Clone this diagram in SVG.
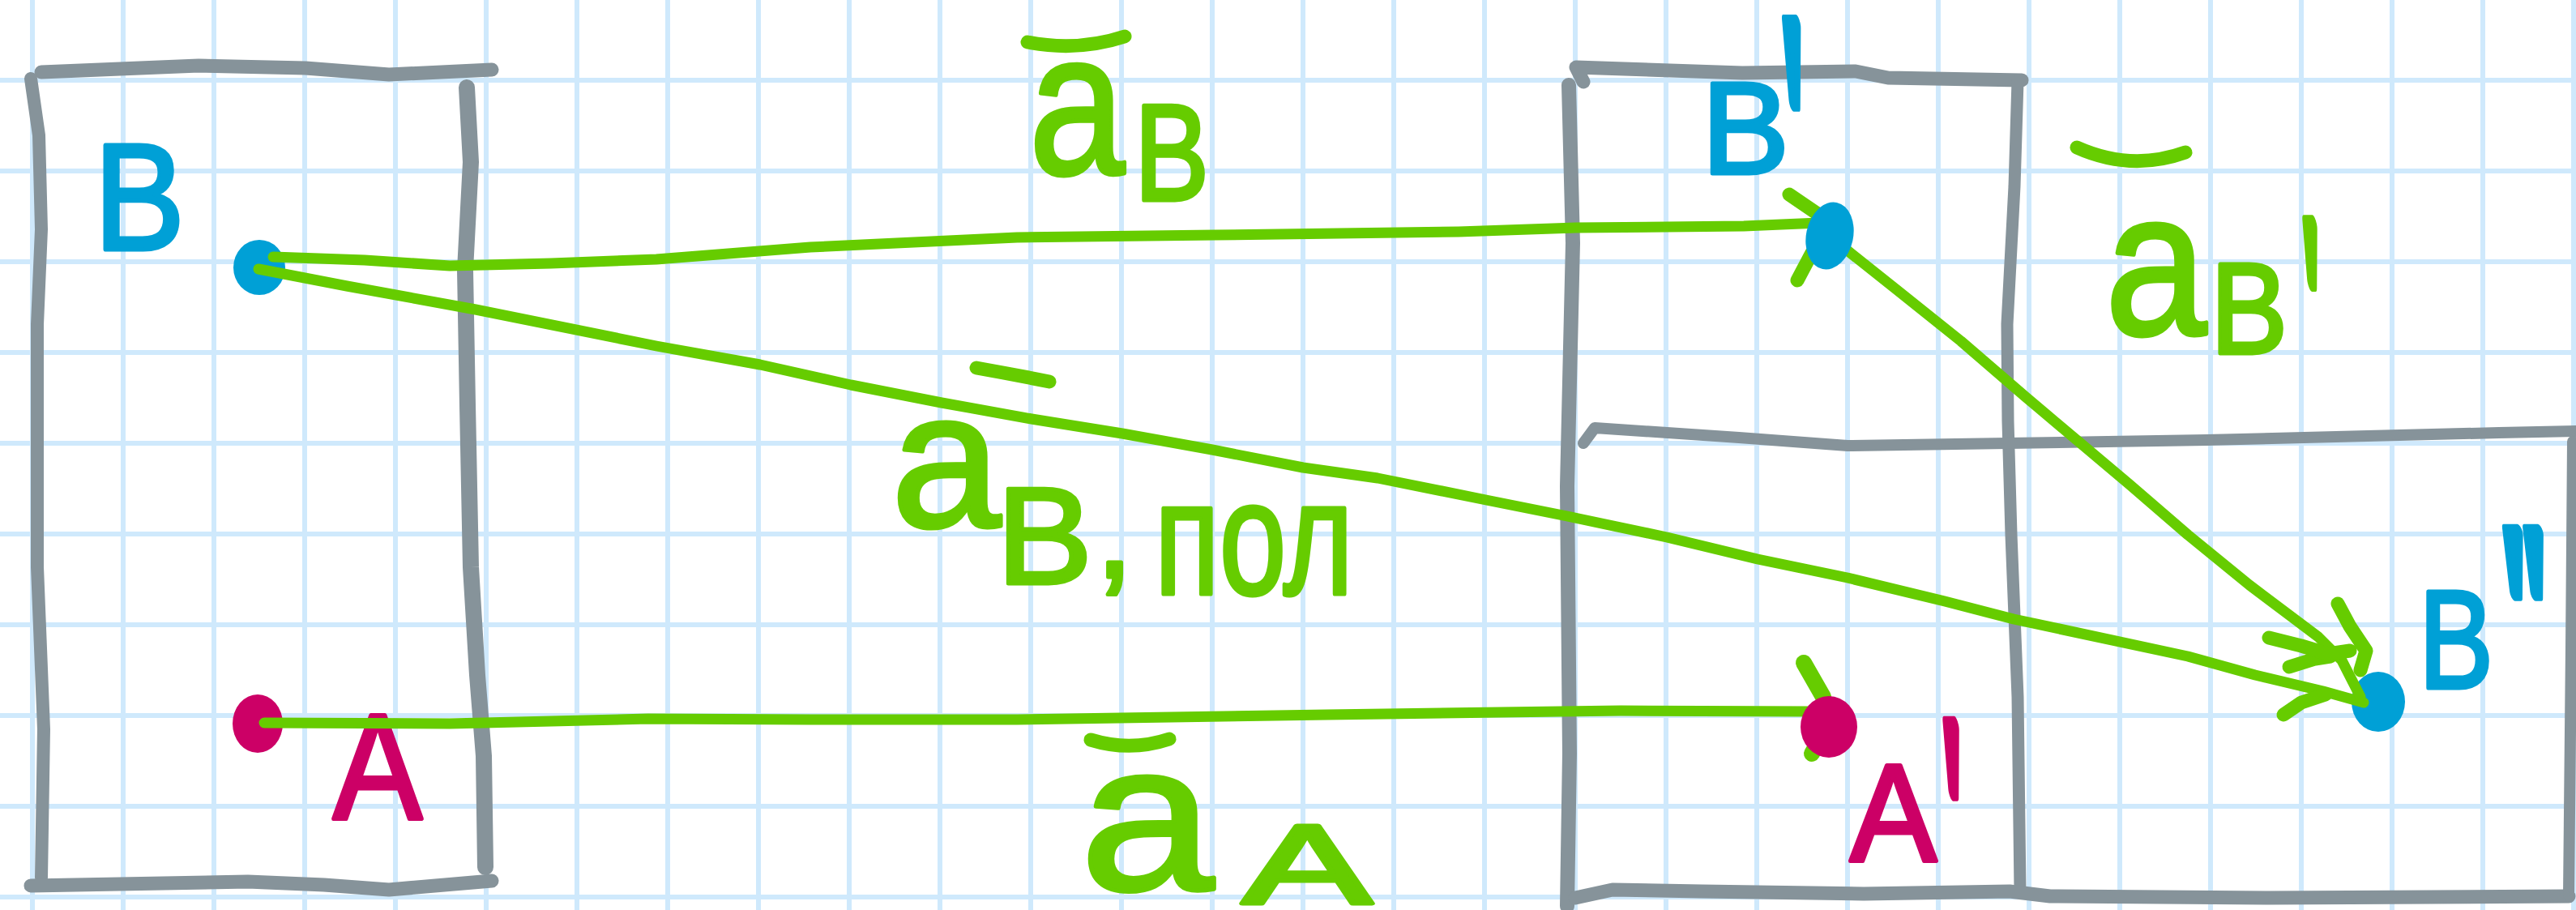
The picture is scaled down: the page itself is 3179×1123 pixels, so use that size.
<svg xmlns="http://www.w3.org/2000/svg" width="3179" height="1123" viewBox="0 0 3179 1123">
<defs>
<style>
.grid{stroke:#cfe9fc;stroke-width:6;fill:none}
.frame{stroke:#86939a;fill:none;stroke-linecap:round;stroke-linejoin:round;stroke-width:17}
.vec{stroke:#66cc00;fill:none;stroke-width:13;stroke-linecap:round;stroke-linejoin:round}
.head{stroke:#66cc00;fill:none;stroke-width:17;stroke-linecap:round;stroke-linejoin:round}
.bar{stroke:#66cc00;fill:none;stroke-width:17;stroke-linecap:round}
.lbl{font-family:"Liberation Sans",Arial,sans-serif;stroke-width:5;stroke-linejoin:round}
.pr{font-family:"DejaVu Sans",sans-serif;stroke-width:6;stroke-linejoin:round}
.g{fill:#66cc00;stroke:#66cc00}
.b{fill:#00a0d6;stroke:#00a0d6}
.m{fill:#cc0066;stroke:#cc0066}
.dot{stroke:none}
</style>
</defs>
<rect width="3179" height="1123" fill="#ffffff"/>
<path class="grid" d="M40 0V1123M152 0V1123M264 0V1123M376 0V1123M488 0V1123M600 0V1123M712 0V1123M824 0V1123M936 0V1123M1048 0V1123M1160 0V1123M1272 0V1123M1384 0V1123M1496 0V1123M1608 0V1123M1720 0V1123M1832 0V1123M1944 0V1123M2056 0V1123M2168 0V1123M2280 0V1123M2392 0V1123M2504 0V1123M2616 0V1123M2728 0V1123M2840 0V1123M2952 0V1123M3064 0V1123M3176 0V1123M0 99H3179M0 211H3179M0 323H3179M0 435H3179M0 547H3179M0 659H3179M0 771H3179M0 883H3179M0 995H3179M0 1107H3179"/>
<g id="frames">
<g id="frame-left">
<path class="frame" d="M51 89L245 81L377 84L480 92L607 86"/>
<path class="frame" d="M38 97L48 167L51 283L46 400L46 700L54 900L51 1083" style="stroke-width:16"/>
<path class="frame" d="M576 108L581 200L574 333L577 500L581 700L589 833L597 933L599 1070" style="stroke-width:20"/>
<path class="frame" d="M38 1093L306 1088L400 1092L480 1098L607 1087"/>
</g>
<g id="frame-middle">
<path class="frame" d="M1954 101L1945 83L2150 90L2290 88L2330 96L2495 99"/>
<path class="frame" d="M1936 105L1941 300L1934 600L1937 930L1934 1118" style="stroke-width:18"/>
<path class="frame" d="M2490 100L2486 230L2477 400L2478 520L2482 660L2490 860L2493 1100" style="stroke-width:15"/>
<path class="frame" d="M1944 1108L1990 1098L2100 1100L2300 1103L2480 1100L2530 1106L2800 1108L3170 1106"/>
</g>
<g id="frame-lower-right">
<path class="frame" d="M1954 547L1968 528L2146 540L2280 550L2477 547L2723 543L3084 534L3179 532" style="stroke-width:14"/>
<path class="frame" d="M3175 545L3173 800L3170 1105" style="stroke-width:14"/>
</g>
</g>
<g id="node-B">
<ellipse class="b dot" cx="320" cy="330" rx="32" ry="34"/>
<text class="lbl b" x="116" y="308" font-size="188" textLength="112" lengthAdjust="spacingAndGlyphs">B</text>
</g>
<g id="node-A">
<ellipse class="m dot" cx="318" cy="893" rx="31" ry="36"/>
<text class="lbl m" x="411" y="1010" font-size="186" textLength="110" lengthAdjust="spacingAndGlyphs">A</text>
</g>
<g id="node-B2">
<ellipse class="b dot" cx="2935" cy="866" rx="33" ry="37"/>
<text class="lbl b" x="2985" y="849" font-size="172" textLength="92" lengthAdjust="spacingAndGlyphs">B</text>
<text class="pr b" transform="translate(3169 967) scale(1.15 2.85) skewX(37)" font-size="150">″</text>
</g>
<g id="connectors">
<g id="edge-aB">
<path class="vec" d="M337 317L450 321L555 328L680 325L810 320L1000 305L1255 293L1500 290L1800 286L1945 281L2152 279L2245 275"/>
<path class="head" d="M2208 240L2252 270M2218 346L2236 312"/>
<path class="bar" d="M1268 52Q1330 64 1388 45"/>
<text class="lbl g"><tspan x="1270" y="215" font-size="250" textLength="118" lengthAdjust="spacingAndGlyphs">a</tspan><tspan x="1400" y="247" font-size="168" textLength="92" lengthAdjust="spacingAndGlyphs">B</tspan></text>
</g>
<g id="edge-aB-full">
<path class="vec" d="M319 332L428 353L587 382L810 427L938 450L1050 475L1162 497L1273 517L1385 535L1496 555L1608 577L1700 590L1834 617L1934 637L2057 663L2169 690L2280 713L2400 742L2485 764L2700 810L2783 833L2867 853L2917 867"/>
<path class="head" d="M2825 823L2857 813L2876 810M2818 882L2840 867L2870 857"/>
<path class="bar" d="M1205 454Q1250 462 1295 471"/>
<text class="lbl g"><tspan x="1100" y="650" font-size="240" textLength="135" lengthAdjust="spacingAndGlyphs">a</tspan><tspan x="1230" y="720" font-size="168" textLength="118" lengthAdjust="spacingAndGlyphs">B</tspan><tspan x="1352" y="712" font-size="168">,</tspan><tspan x="1425" y="733" font-size="200" textLength="245" lengthAdjust="spacingAndGlyphs">пол</tspan></text>
</g>
<g id="edge-aB1">
<path class="vec" d="M2257 291L2340 357L2420 421L2500 490L2627 597L2700 660L2776 722L2861 786L2890 815L2913 860"/>
<path class="head" d="M2885 745L2900 773L2920 803L2913 827M2800 787L2840 797L2873 807L2900 803"/>
<path class="bar" d="M2563 182Q2630 212 2697 188"/>
<text class="lbl g"><tspan x="2598" y="413" font-size="255" textLength="125" lengthAdjust="spacingAndGlyphs">a</tspan><tspan x="2728" y="436" font-size="160" textLength="95" lengthAdjust="spacingAndGlyphs">B</tspan></text>
<text class="pr g" transform="translate(2894 568) scale(1 3.64) skewX(37)" font-size="110">′</text>
</g>
<g id="edge-aA">
<path class="vec" d="M326 892L555 893L800 887L1000 888L1255 888L1638 882L2000 877L2235 878"/>
<path class="head" d="M2226 818L2250 860M2236 930L2246 912" style="stroke-width:20"/>
<path class="bar" d="M1346 913Q1395 928 1443 912"/>
<text class="lbl g"><tspan x="1333" y="1098" font-size="260" textLength="165" lengthAdjust="spacingAndGlyphs">a</tspan><tspan x="1533" y="1115" font-size="140" textLength="160" lengthAdjust="spacingAndGlyphs">A</tspan></text>
</g>
</g>
<g id="node-B1">
<ellipse class="b dot" cx="2258" cy="291" rx="29" ry="42" transform="rotate(12 2258 291)"/>
<text class="lbl b" x="2100" y="214" font-size="162">B</text>
<text class="pr b" transform="translate(2274 426) scale(1 3.41) skewX(37)" font-size="160">′</text>
</g>
<g id="node-A1">
<ellipse class="m dot" cx="2257" cy="897" rx="35" ry="38"/>
<text class="lbl m" x="2283" y="1062" font-size="170" textLength="107" lengthAdjust="spacingAndGlyphs">A</text>
<text class="pr m" transform="translate(2459 1229) scale(1 3.53) skewX(37)" font-size="130">′</text>
</g>
</svg>
